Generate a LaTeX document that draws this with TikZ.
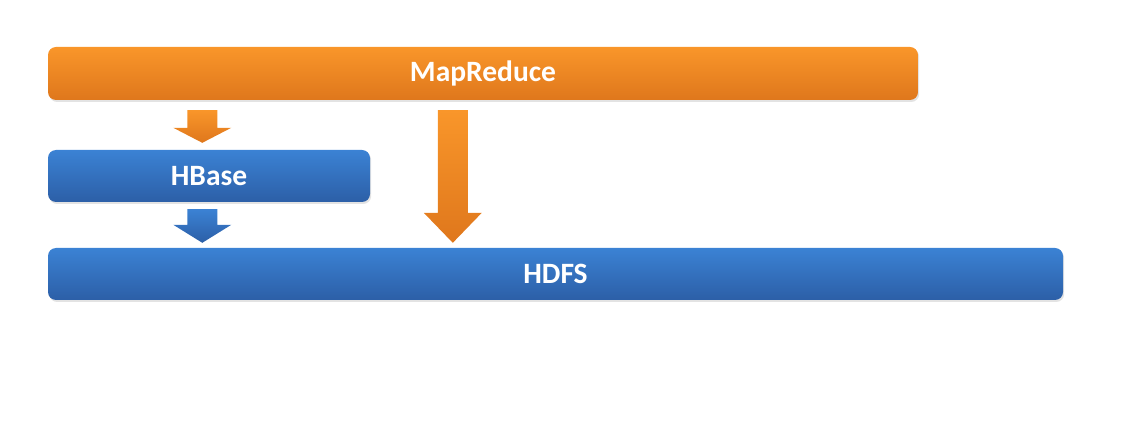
\documentclass[tikz,border=0pt]{standalone}
\usepackage{fontspec}
\setsansfont{Carlito}
\usepackage{tikz}
\usetikzlibrary{calc,shadows}
\definecolor{orgtop}{HTML}{F9962A}
\definecolor{orgbot}{HTML}{DF771C}
\definecolor{blutop}{HTML}{3B82D4}
\definecolor{blubot}{HTML}{2C5FA7}
\tikzset{
  bar/.style={rounded corners=8pt, draw=none, minimum height=52pt,
              text=white, font=\sffamily\bfseries\fontsize{29.5}{34}\selectfont,
              drop shadow={opacity=0.22, shadow xshift=1.2pt, shadow yshift=-2pt}},
  orgbar/.style={bar, top color=orgtop, bottom color=orgbot},
  blubar/.style={bar, top color=blutop, bottom color=blubot},
  orgarr/.style={top color=orgtop, bottom color=orgbot, draw=none},
  bluarr/.style={top color=blutop, bottom color=blubot, draw=none},
}
% block arrow pointing down: style, top, tip, head length
\newcommand{\fatarrow}[4]{%
  \path[#1] let \p1=(#2), \p2=(#3) in
    (\x1-15pt,\y1) -- (\x1+15pt,\y1) -- (\x1+15pt,\y2+#4) -- (\x1+29pt,\y2+#4)
    -- (\x2,\y2) -- (\x1-29pt,\y2+#4) -- (\x1-15pt,\y2+#4) -- cycle;}
\begin{document}
\begin{tikzpicture}[x=1pt, y=1pt]
  \useasboundingbox (0,0) rectangle (1122,-430);

  \node[orgbar, minimum width=870pt, minimum height=53pt] (mapreduce) at (483,-73.5) {MapReduce};
  \node[blubar, minimum width=322pt] (hbase) at (209,-176) {HBase};
  \node[blubar, minimum width=1015pt] (hdfs) at (555.5,-274) {HDFS};

  \coordinate (mr2hb) at ($(mapreduce.south west)+(154.5,-10)$);
  \coordinate (hbin)  at ($(hbase.north west)+(154.5,7)$);
  \coordinate (hb2fs) at ($(hbase.south west)+(154.5,-7)$);
  \coordinate (fsin)  at ($(hdfs.north west)+(154.5,5)$);
  \coordinate (mr2fs) at ($(mapreduce.south west)+(405,-10)$);
  \coordinate (fsin2) at ($(hdfs.north west)+(405,5)$);

  \fatarrow{orgarr}{mr2hb}{hbin}{15pt}
  \fatarrow{bluarr}{hb2fs}{fsin}{18pt}
  \fatarrow{orgarr}{mr2fs}{fsin2}{30pt}
\end{tikzpicture}
\end{document}
